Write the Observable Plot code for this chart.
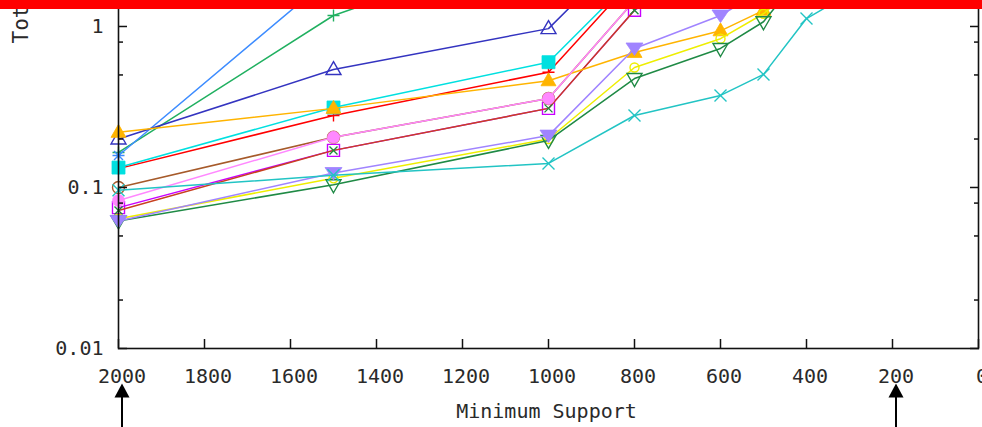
<!DOCTYPE html>
<html>
<head>
<meta charset="utf-8">
<script src="https://cdn.jsdelivr.net/npm/d3@7"></script>
<script src="https://cdn.jsdelivr.net/npm/@observablehq/plot@0.6"></script>
<style>
html,body{margin:0;padding:0;background:#fff;}
#wrap{position:relative;width:982px;height:427px;overflow:hidden;background:#fff;}
#bar{position:absolute;left:0;top:0;width:982px;height:9px;background:#ff0000;z-index:2;}
</style>
</head>
<body>
<div id="wrap"><div id="bar"></div></div>
<script>
// ---- data ----
const supports = [2000, 1500, 1000, 800, 600, 500, 400, 300];
const xTicks = [2000, 1800, 1600, 1400, 1200, 1000, 800, 600, 400, 200, 0];
const yMajor = [0.01, 0.1, 1];
const yMajorLabels = ["0.01", "0.1", "1"];
const yMinor = [0.02, 0.05, 0.08, 0.2, 0.5, 0.8];
const arrowAt = [2000, 200];
const xTitle = "Minimum Support";
const yTitle = "Total Time (sec)";

const timeRed      = [0.131, 0.28, 0.52, 2.0];
const timeGreen    = [0.165, 1.17, 3.4];
const timeBlue     = [0.158, 2.1];
const timeMagenta  = [0.075, 0.17, 0.31, 1.26, 3.0];
const timeCyan     = [0.133, 0.314, 0.60, 2.05];
const timeBrown    = [0.100, 0.205, 0.357, 1.45];
const timeRust     = [0.072, 0.17, 0.31, 1.26];
const timeNavy     = [0.20, 0.54, 0.97, 3.3];
const timeOrange   = [0.22, 0.31, 0.46, 0.69, 0.94, 1.26, 1.9];
const timeYellow   = [0.064, 0.114, 0.20, 0.556, 0.84, 1.2, 2.0];
const timeDkGreen  = [0.062, 0.104, 0.196, 0.475, 0.73, 1.07, 2.3];
const timeLavender = [0.062, 0.123, 0.21, 0.73, 1.17, 1.7];
const timePink     = [0.083, 0.205, 0.357, 1.45];
const timeTeal     = [0.096, 0.119, 0.141, 0.28, 0.373, 0.504, 1.12, 1.6];

// ---- marker shapes ----
const shape = fn => ({draw(c) { fn(c); }});
const poly = pts => shape(c => { c.moveTo(pts[0][0], pts[0][1]); for (const p of pts.slice(1)) c.lineTo(p[0], p[1]); c.closePath(); });
const plus = shape(c => { c.moveTo(-6, 0); c.lineTo(6, 0); c.moveTo(0, -6); c.lineTo(0, 6); });
const cross = shape(c => { c.moveTo(-6, -6); c.lineTo(6, 6); c.moveTo(-6, 6); c.lineTo(6, -6); });
const smallCross = shape(c => { c.moveTo(-4, -4); c.lineTo(4, 4); c.moveTo(-4, 4); c.lineTo(4, -4); });
const star = shape(c => { c.moveTo(-6, 0); c.lineTo(6, 0); c.moveTo(0, -6); c.lineTo(0, 6); c.moveTo(-4.5, -4.5); c.lineTo(4.5, 4.5); c.moveTo(-4.5, 4.5); c.lineTo(4.5, -4.5); });
const square = poly([[-6, -6], [6, -6], [6, 6], [-6, 6]]);
const bigSquare = poly([[-6.5, -6.5], [6.5, -6.5], [6.5, 6.5], [-6.5, 6.5]]);
const triUp = poly([[0, -8], [7.5, 5], [-7.5, 5]]);
const triDown = poly([[0, 8], [7.5, -5], [-7.5, -5]]);
const triDownWide = poly([[0, 7], [8.5, -5.5], [-8.5, -5.5]]);
const circle = r => shape(c => { c.moveTo(r, 0); c.arc(0, 0, r, 0, 2 * Math.PI); });
const arrowHead = poly([[0, 0], [7.5, 14], [-7.5, 14]]);

const series = [
  {values: timeRed,      color: "#ff0000", sym: plus,        filled: false},
  {values: timeGreen,    color: "#20b060", sym: plus,        filled: false},
  {values: timeBlue,     color: "#3d8cff", sym: star,        filled: false},
  {values: timeMagenta,  color: "#c800ff", sym: square,      filled: false},
  {values: timeCyan,     color: "#00e0e0", sym: bigSquare,   filled: true},
  {values: timeBrown,    color: "#a65a2a", sym: circle(6),   filled: false},
  {values: timeRust,     color: "#c84020", sym: smallCross,  filled: false, mark: "#1f8a3a"},
  {values: timeNavy,     color: "#3434c0", sym: triUp,       filled: false},
  {values: timeOrange,   color: "#ffb400", sym: triUp,       filled: true},
  {values: timeYellow,   color: "#eeee00", sym: circle(4.5), filled: false},
  {values: timeDkGreen,  color: "#1f8a45", sym: triDown,     filled: false},
  {values: timeLavender, color: "#a084ff", sym: triDownWide, filled: true},
  {values: timePink,     color: "#ff88ff", sym: circle(6),   filled: true},
  {values: timeTeal,     color: "#22c4c4", sym: cross,       filled: false}
];

const marks = [];
for (const s of series) {
  const rows = s.values.map((v, i) => ({x: supports[i], y: v}));
  marks.push(Plot.line(rows, {x: "x", y: "y", stroke: s.color, strokeWidth: 1.5}));
  const mc = s.mark || s.color;
  marks.push(Plot.dot(rows, {
    x: "x", y: "y", symbol: s.sym, r: 6,
    fill: s.filled ? mc : "none",
    stroke: mc,
    strokeWidth: s.filled ? 0.8 : 1.4
  }));
}

// frame and axes
marks.push(Plot.frame({stroke: "#111", strokeWidth: 1.6}));
marks.push(Plot.axisX({ticks: xTicks, tickSize: -9, stroke: "#111", strokeWidth: 1.5, fill: "none", label: null}));
marks.push(Plot.axisX({ticks: xTicks, tickSize: 0, tickPadding: 20, tickFormat: d => String(d), fill: "#2a2a2a", stroke: "none", label: null, dx: 3.5, fontSize: 20}));
marks.push(Plot.axisY({anchor: "left", ticks: yMajor, tickSize: -9, stroke: "#111", strokeWidth: 1.5, fill: "none", label: null}));
marks.push(Plot.axisY({anchor: "left", ticks: yMinor, tickSize: -5, stroke: "#111", strokeWidth: 1.5, fill: "none", label: null}));
marks.push(Plot.axisY({anchor: "right", ticks: yMajor, tickSize: -9, stroke: "#111", strokeWidth: 1.5, fill: "none", label: null}));
marks.push(Plot.axisY({anchor: "right", ticks: yMinor, tickSize: -5, stroke: "#111", strokeWidth: 1.5, fill: "none", label: null}));
marks.push(Plot.axisY({anchor: "left", ticks: yMajor, tickSize: 0, tickPadding: 15, tickFormat: d => yMajorLabels[yMajor.indexOf(d)], fill: "#2a2a2a", stroke: "none", label: null, fontSize: 20}));

// titles
marks.push(Plot.text([xTitle], {text: d => d, frameAnchor: "bottom", lineAnchor: "middle", dy: 63.5, dx: -2, fontSize: 20, fill: "#2a2a2a"}));
marks.push(Plot.text([yTitle], {text: d => d, frameAnchor: "top-left", rotate: -90, textAnchor: "start", lineAnchor: "middle", dx: -97, dy: 43, fontSize: 21, fill: "#2a2a2a"}));

// arrows under 2000 and 200
marks.push(Plot.ruleX(arrowAt, {x: d => d, insetTop: 318, dy: 79, dx: 3.5, stroke: "#000", strokeWidth: 2}));
marks.push(Plot.dot(arrowAt, {x: d => d, frameAnchor: "bottom", symbol: arrowHead, r: 6, fill: "#000", stroke: "none", dx: 3.5, dy: 35}));

const chart = Plot.plot({
  width: 982, height: 427,
  marginLeft: 118, marginRight: 4, marginTop: 0, marginBottom: 79,
  style: {fontFamily: "'DejaVu Sans Mono', monospace", fontSize: "20px", color: "#222", background: "#fff", overflow: "visible"},
  x: {type: "linear", domain: [2000, 0], axis: null},
  y: {type: "log", domain: [0.01, 1.45], axis: null},
  marks
});
document.getElementById("wrap").appendChild(chart);
</script>
</body>
</html>
